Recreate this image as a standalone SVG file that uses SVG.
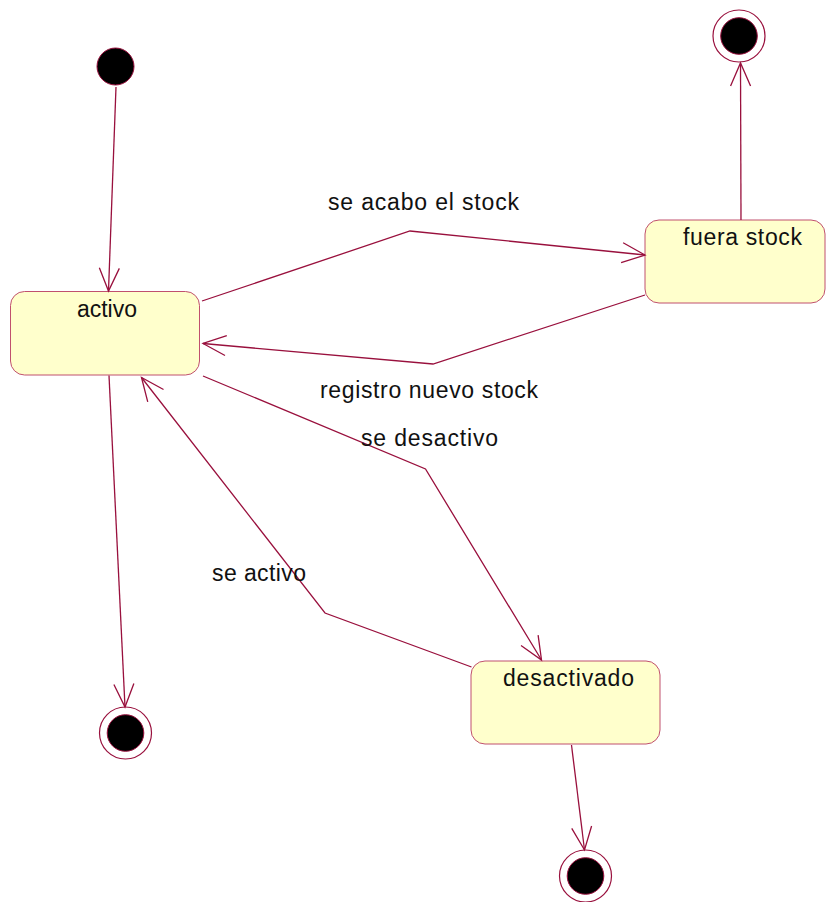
<svg xmlns="http://www.w3.org/2000/svg" width="826" height="902" viewBox="0 0 826 902">
  <style>
    .state rect { fill: #ffffcc; stroke: #c0506e; stroke-width: 1; }
    .label { font-family: "Liberation Sans", Arial, sans-serif; font-size: 23px; fill: #111; }
    .edge { fill: none; stroke: #99103d; stroke-width: 1.3; }
    .initial { fill: #000; stroke: #99103d; stroke-width: 1; }
    .final-ring { fill: #fff; stroke: #99103d; stroke-width: 1.2; }
    .final-dot { fill: #000; stroke: #99103d; stroke-width: 1; }
  </style>
  <defs>
    <marker id="open-arrow" markerUnits="userSpaceOnUse" markerWidth="30" markerHeight="30" viewBox="-26 -13 30 26" refX="0" refY="0" orient="auto">
      <path d="M-23,-10 L0,0 L-23,10" fill="none" stroke="#99103d" stroke-width="1.3"/>
    </marker>
  </defs>

  <rect width="826" height="902" fill="#fff"/>

  <!-- pseudo states -->
  <g id="initial">
    <circle class="initial" cx="115.5" cy="66.5" r="18.5"/>
  </g>
  <g id="final-top">
    <circle class="final-ring" cx="739" cy="36" r="26"/>
    <circle class="final-dot" cx="739" cy="36" r="18.3"/>
  </g>
  <g id="final-left">
    <circle class="final-ring" cx="125.5" cy="733" r="26"/>
    <circle class="final-dot" cx="125.5" cy="733" r="18.3"/>
  </g>
  <g id="final-bottom">
    <circle class="final-ring" cx="585.5" cy="876" r="26"/>
    <circle class="final-dot" cx="585.5" cy="876" r="18.3"/>
  </g>

  <!-- states -->
  <g id="activo" class="state">
    <rect x="10.5" y="291.5" width="189" height="83.5" rx="14"/>
    <text class="label" x="77" y="317" textLength="60" lengthAdjust="spacing">activo</text>
  </g>
  <g id="fuera-stock" class="state">
    <rect x="645" y="220" width="180" height="83" rx="14"/>
    <text class="label" x="683" y="245" textLength="119" lengthAdjust="spacing">fuera stock</text>
  </g>
  <g id="desactivado" class="state">
    <rect x="471" y="661" width="189" height="83" rx="14"/>
    <text class="label" x="503" y="686" textLength="131" lengthAdjust="spacing">desactivado</text>
  </g>

  <!-- transitions -->
  <g id="transitions">
    <path class="edge" d="M116,87 L108.5,291" marker-end="url(#open-arrow)"/>
    <path class="edge" d="M202,301 L410,231 L645,255" marker-end="url(#open-arrow)"/>
    <path class="edge" d="M645,295 L433,364 L203,343.5" marker-end="url(#open-arrow)"/>
    <path class="edge" d="M203,376 L425.5,469 L541.5,660" marker-end="url(#open-arrow)"/>
    <path class="edge" d="M471.5,667 L325,613 L141.5,377.5" marker-end="url(#open-arrow)"/>
    <path class="edge" d="M109,375.5 L125,707" marker-end="url(#open-arrow)"/>
    <path class="edge" d="M571.5,745 L584.5,850" marker-end="url(#open-arrow)"/>
    <path class="edge" d="M741,220 L740.5,63" marker-end="url(#open-arrow)"/>
  </g>

  <!-- transition labels -->
  <g id="transition-labels">
    <text class="label" x="328" y="210" textLength="191" lengthAdjust="spacing">se acabo el stock</text>
    <text class="label" x="320" y="398" textLength="218" lengthAdjust="spacing">registro nuevo stock</text>
    <text class="label" x="361" y="446" textLength="137" lengthAdjust="spacing">se desactivo</text>
    <text class="label" x="212" y="581" textLength="94" lengthAdjust="spacing">se activo</text>
  </g>
</svg>
